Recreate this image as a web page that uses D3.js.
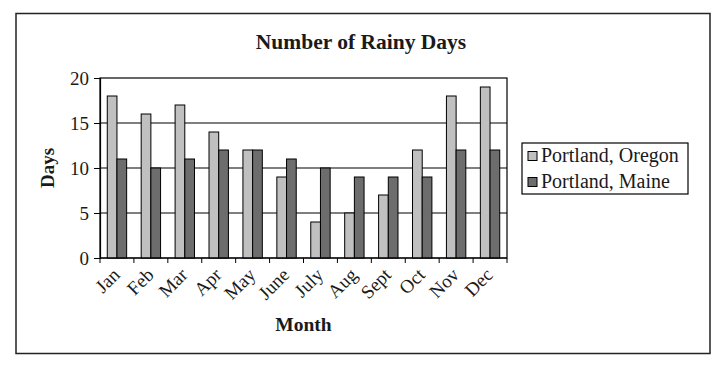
<!DOCTYPE html>
<html>
<head>
<meta charset="utf-8">
<script src="https://cdn.jsdelivr.net/npm/d3@7"></script>
<style>
  body { margin: 0; background: #fff; }
  text { font-family: "Liberation Serif", "Times New Roman", serif; fill: #1a1a1a; }
</style>
</head>
<body>
<svg id="chart"></svg>
<script>
// data
var months = ["Jan", "Feb", "Mar", "Apr", "May", "June", "July", "Aug", "Sept", "Oct", "Nov", "Dec"];
var seriesNames = ["Portland, Oregon", "Portland, Maine"];
var oregon = [18, 16, 17, 14, 12, 9, 4, 5, 7, 12, 18, 19];
var maine = [11, 10, 11, 12, 12, 11, 10, 9, 9, 9, 12, 12];
var yTicks = [0, 5, 10, 15, 20];
var colors = ["#c0c0c0", "#6d6d6d"];

var width = 724, height = 366;
var margin = {left: 100, right: 217, top: 78, bottom: 108};
var w = width - margin.left - margin.right, h = height - margin.top - margin.bottom;

var svg = d3.select("#chart").attr("width", width).attr("height", height);

// outer frame
svg.append("rect")
    .attr("x", 16).attr("y", 13.5).attr("width", 694).attr("height", 340)
    .attr("fill", "none").attr("stroke", "#222").attr("stroke-width", 1.5);

svg.append("text")
    .attr("x", 361).attr("y", 49)
    .attr("text-anchor", "middle")
    .style("font-size", "21.5px").style("font-weight", "bold")
    .text("Number of Rainy Days");

var g = svg.append("g").attr("transform", "translate(" + margin.left + "," + margin.top + ")");

var x = d3.scaleBand().domain(months).range([0, w]);
var x1 = d3.scaleBand().domain(seriesNames).range([0, x.bandwidth()]).paddingInner(0).paddingOuter(0.75);
var y = d3.scaleLinear().domain([0, 20]).range([h, 0]);

// grid lines
g.append("g").selectAll("line")
    .data(yTicks.filter(function(d) { return d > 0 && d < 20; }))
    .enter().append("line")
    .attr("x1", 0).attr("x2", w)
    .attr("y1", function(d) { return y(d); }).attr("y2", function(d) { return y(d); })
    .attr("stroke", "#000").attr("stroke-width", 1.2);

// plot border
g.append("rect").attr("x", 0).attr("y", 0).attr("width", w).attr("height", h)
    .attr("fill", "none").attr("stroke", "#000").attr("stroke-width", 1.2);

var rows = months.map(function(m, i) { return {month: m, values: [oregon[i], maine[i]]}; });

g.append("g").selectAll("g")
    .data(rows)
    .enter().append("g")
    .attr("transform", function(d) { return "translate(" + x(d.month) + ",0)"; })
    .selectAll("rect")
    .data(function(d) { return d.values.map(function(v, j) { return {name: seriesNames[j], value: v, j: j}; }); })
    .enter().append("rect")
    .attr("x", function(d) { return x1(d.name); })
    .attr("width", x1.bandwidth())
    .attr("y", function(d) { return y(d.value); })
    .attr("height", function(d) { return h - y(d.value); })
    .attr("fill", function(d) { return colors[d.j]; })
    .attr("stroke", "#000").attr("stroke-width", 1);

// y axis
var yAxis = g.append("g")
    .call(d3.axisLeft(y).tickValues(yTicks).tickSize(6).tickPadding(5));
yAxis.select(".domain").attr("stroke", "#000").attr("stroke-width", 1.2);
yAxis.selectAll("line").attr("stroke", "#000");
yAxis.selectAll("text").style("font-size", "19px").attr("fill", "#1a1a1a").style("font-family", "Liberation Serif");

// x axis: ticks on category boundaries
var xAxis = g.append("g").attr("transform", "translate(0," + h + ")");
xAxis.append("line").attr("x1", 0).attr("x2", w).attr("stroke", "#000").attr("stroke-width", 1.2);
xAxis.selectAll("line.tick")
    .data(months.concat(["end"]))
    .enter().append("line").attr("class", "tick")
    .attr("x1", function(d, i) { return i * x.step(); })
    .attr("x2", function(d, i) { return i * x.step(); })
    .attr("y1", 0).attr("y2", 5)
    .attr("stroke", "#000");
xAxis.selectAll("text")
    .data(months)
    .enter().append("text")
    .attr("text-anchor", "end")
    .attr("transform", function(d) {
        return "translate(" + (x(d) + x.bandwidth() / 2 + 4) + ",18) rotate(-45)";
    })
    .style("font-size", "19px")
    .text(function(d) { return d; });

// axis titles
svg.append("text")
    .attr("transform", "translate(54," + (margin.top + h / 2) + ") rotate(-90)")
    .attr("text-anchor", "middle")
    .style("font-size", "19px").style("font-weight", "bold")
    .text("Days");
svg.append("text")
    .attr("x", margin.left + w / 2).attr("y", 331)
    .attr("text-anchor", "middle")
    .style("font-size", "19.5px").style("font-weight", "bold")
    .text("Month");

// legend
var legend = svg.append("g").attr("transform", "translate(522,143)");
legend.append("rect").attr("width", 166).attr("height", 51)
    .attr("fill", "#fff").attr("stroke", "#000").attr("stroke-width", 1.2);
var items = legend.selectAll("g.item")
    .data(seriesNames)
    .enter().append("g").attr("class", "item")
    .attr("transform", function(d, i) { return "translate(6," + (13 + i * 26) + ")"; });
items.append("rect")
    .attr("x", 0).attr("y", -4.5).attr("width", 9).attr("height", 9)
    .attr("fill", function(d, i) { return colors[i]; })
    .attr("stroke", "#000").attr("stroke-width", 1);
items.append("text")
    .attr("x", 13).attr("y", 6)
    .style("font-size", "20px")
    .text(function(d) { return d; });
</script>
</body>
</html>
